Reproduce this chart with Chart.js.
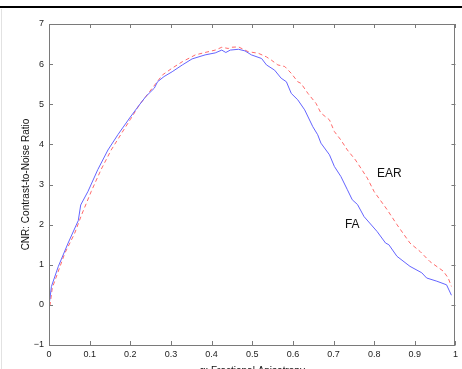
<!DOCTYPE html>
<html>
<head>
<meta charset="utf-8">
<script src="https://cdn.jsdelivr.net/npm/chart.js@4/dist/chart.umd.min.js"></script>
<style>
  html, body { margin: 0; padding: 0; background: #fff; }
  canvas { display: block; }
</style>
</head>
<body>
<canvas id="cnrChart" width="462" height="369"></canvas>
<script>
// values
var faX = [0, 0.006, 0.023, 0.047, 0.067, 0.072, 0.078, 0.096, 0.12, 0.145, 0.17, 0.2, 0.222, 0.238, 0.259, 0.267, 0.283, 0.303, 0.328, 0.352, 0.384, 0.409, 0.425, 0.435, 0.446, 0.466, 0.482, 0.498, 0.523, 0.535, 0.555, 0.571, 0.584, 0.596, 0.612, 0.629, 0.649, 0.661, 0.669, 0.69, 0.702, 0.718, 0.734, 0.746, 0.759, 0.775, 0.807, 0.828, 0.836, 0.856, 0.888, 0.917, 0.929, 0.954, 0.978, 0.99];
var faY = [-0.02, 0.46, 0.96, 1.54, 1.99, 2.1, 2.49, 2.83, 3.37, 3.86, 4.25, 4.68, 4.98, 5.19, 5.40, 5.56, 5.69, 5.81, 5.98, 6.13, 6.23, 6.28, 6.35, 6.29, 6.35, 6.37, 6.33, 6.23, 6.14, 5.98, 5.85, 5.65, 5.56, 5.27, 5.11, 4.86, 4.44, 4.24, 4.03, 3.74, 3.45, 3.20, 2.87, 2.62, 2.50, 2.20, 1.83, 1.54, 1.50, 1.21, 0.96, 0.80, 0.67, 0.59, 0.50, 0.24];

var earX = [0, 0.008, 0.039, 0.063, 0.08, 0.104, 0.128, 0.153, 0.18, 0.2, 0.222, 0.254, 0.279, 0.303, 0.328, 0.36, 0.384, 0.409, 0.425, 0.441, 0.449, 0.466, 0.49, 0.515, 0.535, 0.547, 0.563, 0.58, 0.596, 0.612, 0.62, 0.637, 0.657, 0.669, 0.69, 0.702, 0.718, 0.734, 0.754, 0.767, 0.783, 0.8, 0.832, 0.856, 0.888, 0.913, 0.937, 0.97, 0.982, 0.99];
var earY = [-0.2, 0.42, 1.29, 1.78, 2.24, 2.83, 3.37, 3.86, 4.3, 4.62, 4.98, 5.40, 5.73, 5.90, 6.06, 6.23, 6.29, 6.35, 6.42, 6.39, 6.42, 6.43, 6.31, 6.27, 6.18, 6.10, 5.98, 5.94, 5.77, 5.56, 5.52, 5.27, 5.02, 4.78, 4.61, 4.32, 4.11, 3.86, 3.61, 3.41, 3.16, 2.82, 2.37, 2.0, 1.54, 1.33, 1.08, 0.84, 0.67, 0.46];

var xTicks = [0, 0.1, 0.2, 0.3, 0.4, 0.5, 0.6, 0.7, 0.8, 0.9, 1];
var yTicks = [-1, 0, 1, 2, 3, 4, 5, 6, 7];

var yTitle = 'CNR: Contrast-to-Noise Ratio';
var xTitle = 'α: Fractional Anisotropy';
var curveNames = ['FA', 'EAR'];
var namePos = [[0.746, 2.0], [0.837, 3.27]];

function toPoints(xs, ys) {
  var pts = [];
  for (var i = 0; i < xs.length; i++) {
    pts.push({ x: xs[i], y: ys[i] });
  }
  return pts;
}

// frame, inward ticks, titles and curve names
var decor = {
  id: 'decor',
  beforeDraw: function (chart) {
    var c = chart.ctx;
    c.save();
    c.fillStyle = '#fff';
    c.fillRect(0, 0, chart.width, chart.height);
    // black rule at the top and faint line on the left
    c.fillStyle = '#000';
    c.fillRect(0, 6, chart.width, 2);
    c.strokeStyle = '#e2e2e2';
    c.lineWidth = 1;
    c.beginPath();
    c.moveTo(1.5, 9);
    c.lineTo(1.5, chart.height);
    c.stroke();
    c.restore();
  },
  afterDraw: function (chart) {
    var c = chart.ctx;
    var a = chart.chartArea;
    var xs = chart.scales.x;
    var ys = chart.scales.y;
    c.save();
    c.strokeStyle = '#7a7a7a';
    c.lineWidth = 1;
    c.strokeRect(Math.round(a.left) + 0.5, Math.round(a.top) + 0.5,
      Math.round(a.right - a.left) - 1, Math.round(a.bottom - a.top));
    c.beginPath();
    xTicks.forEach(function (v) {
      var px = Math.round(xs.getPixelForValue(v)) + 0.5;
      c.moveTo(px, a.bottom); c.lineTo(px, a.bottom - 4);
      c.moveTo(px, a.top); c.lineTo(px, a.top + 4);
    });
    yTicks.forEach(function (v) {
      var py = Math.round(ys.getPixelForValue(v)) + 0.5;
      c.moveTo(a.left, py); c.lineTo(a.left + 4, py);
      c.moveTo(a.right, py); c.lineTo(a.right - 4, py);
    });
    c.stroke();

    c.fillStyle = '#111';
    c.font = '12px "Liberation Sans", Arial, sans-serif';
    c.textAlign = 'center';
    c.textBaseline = 'middle';
    for (var i = 0; i < curveNames.length; i++) {
      c.fillText(curveNames[i], xs.getPixelForValue(namePos[i][0]), ys.getPixelForValue(namePos[i][1]));
    }

    c.font = '10px "Liberation Sans", Arial, sans-serif';
    c.save();
    c.translate(26, (a.top + a.bottom) / 2);
    c.rotate(-Math.PI / 2);
    c.fillText(yTitle, 0, 0);
    c.restore();

    // x title is cut off by the bottom edge in the picture
    c.textBaseline = 'top';
    c.fillText(xTitle, (a.left + a.right) / 2, 366);
    c.restore();
  }
};

var ctx = document.getElementById('cnrChart');
var cnrChart = new Chart(ctx, {
  type: 'line',
  data: {
    datasets: [
      {
        label: 'FA',
        data: toPoints(faX, faY),
        borderColor: '#6464ff',
        borderWidth: 1,
        pointRadius: 0,
        tension: 0,
        fill: false
      },
      {
        label: 'EAR',
        data: toPoints(earX, earY),
        borderColor: '#ff6a6a',
        borderWidth: 1,
        borderDash: [4, 3],
        pointRadius: 0,
        tension: 0,
        fill: false
      }
    ]
  },
  options: {
    responsive: false,
    animation: false,
    devicePixelRatio: 1,
    layout: { padding: { top: 24, right: 3, left: 0, bottom: 0 } },
    plugins: { legend: { display: false }, tooltip: { enabled: false } },
    scales: {
      x: {
        type: 'linear',
        min: 0,
        max: 1,
        afterFit: function (s) { s.height = 24; },
        afterBuildTicks: function (s) { s.ticks = xTicks.map(function (v) { return { value: v }; }); },
        grid: { display: false, drawTicks: false },
        border: { display: false },
        ticks: {
          padding: 4,
          color: '#222',
          font: { family: '"Liberation Sans", Arial, sans-serif', size: 9 },
          maxRotation: 0,
          autoSkip: false,
          callback: function (v) { return String(Math.round(v * 10) / 10); }
        }
      },
      y: {
        type: 'linear',
        min: -1,
        max: 7,
        afterFit: function (s) { s.width = 49; },
        afterBuildTicks: function (s) { s.ticks = yTicks.map(function (v) { return { value: v }; }); },
        grid: { display: false, drawTicks: false },
        border: { display: false },
        ticks: {
          padding: 5,
          color: '#222',
          font: { family: '"Liberation Sans", Arial, sans-serif', size: 9 },
          autoSkip: false,
          callback: function (v) { return v < 0 ? '\u2212' + Math.abs(v) : String(v); }
        }
      }
    }
  },
  plugins: [decor]
});
</script>
</body>
</html>
